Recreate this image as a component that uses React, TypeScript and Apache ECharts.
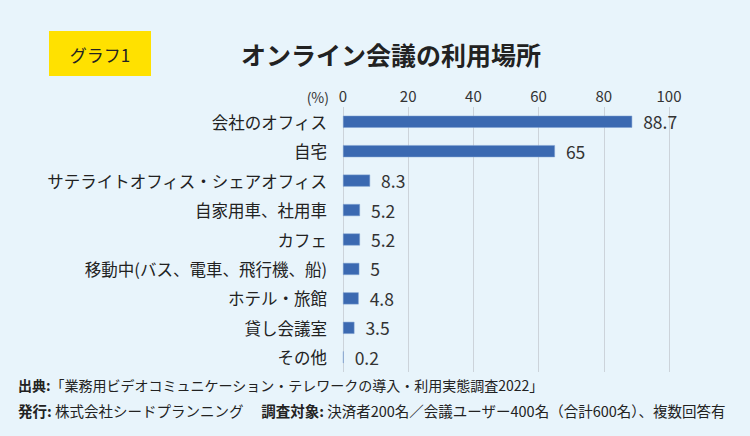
import React, { useEffect, useRef } from "react";
import * as echarts from "echarts";

const categories = [
  "会社のオフィス",
  "自宅",
  "サテライトオフィス・シェアオフィス",
  "自家用車、社用車",
  "カフェ",
  "移動中(バス、電車、飛行機、船)",
  "ホテル・旅館",
  "貸し会議室",
  "その他",
];
const values = [88.7, 65, 8.3, 5.2, 5.2, 5, 4.8, 3.5, 0.2];
const xTicks = [0, 20, 40, 60, 80, 100];

const FONT = "'Noto Sans CJK JP', 'Noto Sans', sans-serif";

export default function App() {
  const ref = useRef<HTMLDivElement>(null);
  useEffect(() => {
    if (!ref.current) return;
    const chart = echarts.init(ref.current, null, { renderer: "svg" });
    chart.setOption({
      animation: false,
      backgroundColor: "#e8f4fb",
      textStyle: { fontFamily: FONT },
      grid: { left: 343, right: 81, top: 107, bottom: 64 },
      xAxis: {
        type: "value",
        position: "top",
        min: xTicks[0],
        max: xTicks[xTicks.length - 1],
        interval: 20,
        axisLine: { show: false },
        axisTick: { show: false },
        axisLabel: { fontSize: 15, color: "#333", margin: 4, fontFamily: FONT },
        splitLine: { show: true, lineStyle: { color: "#ccd3da", width: 1 } },
      },
      yAxis: {
        type: "category",
        data: categories,
        inverse: true,
        axisLine: { show: false },
        axisTick: { show: false },
        axisLabel: { fontSize: 16.5, color: "#222", margin: 16, fontFamily: FONT },
      },
      series: [
        {
          type: "bar",
          data: values,
          barWidth: 12,
          itemStyle: { color: "#3b69b1", borderColor: "#7fa0d0", borderWidth: 0.5 },
          label: {
            show: true,
            position: "right",
            distance: 11,
            fontSize: 17.5,
            color: "#333",
            fontFamily: FONT,
          },
        },
      ],
      graphic: [
        { type: "rect", shape: { x: 49, y: 31, width: 102, height: 45 }, style: { fill: "#ffe100" } },
        {
          type: "text",
          x: 100,
          y: 54,
          style: { text: "グラフ1", fontSize: 17, fill: "#222", align: "center", verticalAlign: "middle", fontFamily: FONT },
        },
        {
          type: "text",
          x: 391,
          y: 54,
          style: { text: "オンライン会議の利用場所", fontSize: 25, fontWeight: "bold", fill: "#222", align: "center", verticalAlign: "middle", fontFamily: FONT },
        },
        {
          type: "text",
          x: 329,
          y: 97,
          style: { text: "(%)", fontSize: 14, fill: "#333", align: "right", verticalAlign: "middle", fontFamily: FONT },
        },
        {
          type: "text",
          x: 18,
          y: 385,
          style: {
            text: "{b|出典:}「業務用ビデオコミュニケーション・テレワークの導入・利用実態調査2022」",
            fontSize: 14,
            fill: "#222",
            verticalAlign: "middle",
            fontFamily: FONT,
            rich: { b: { fontWeight: "bold", fontSize: 14, fill: "#222", fontFamily: FONT } },
          },
        },
        {
          type: "text",
          x: 18,
          y: 410,
          style: {
            text: "{b|発行:} 株式会社シードプランニング　 {b|調査対象:} 決済者200名／会議ユーザー400名（合計600名）、複数回答有",
            fontSize: 14.5,
            fill: "#222",
            verticalAlign: "middle",
            fontFamily: FONT,
            rich: { b: { fontWeight: "bold", fontSize: 14.5, fill: "#222", fontFamily: FONT } },
          },
        },
      ],
    });
    return () => chart.dispose();
  }, []);
  return <div ref={ref} style={{ width: 750, height: 436, position: "absolute", left: 0, top: 0 }} />;
}
